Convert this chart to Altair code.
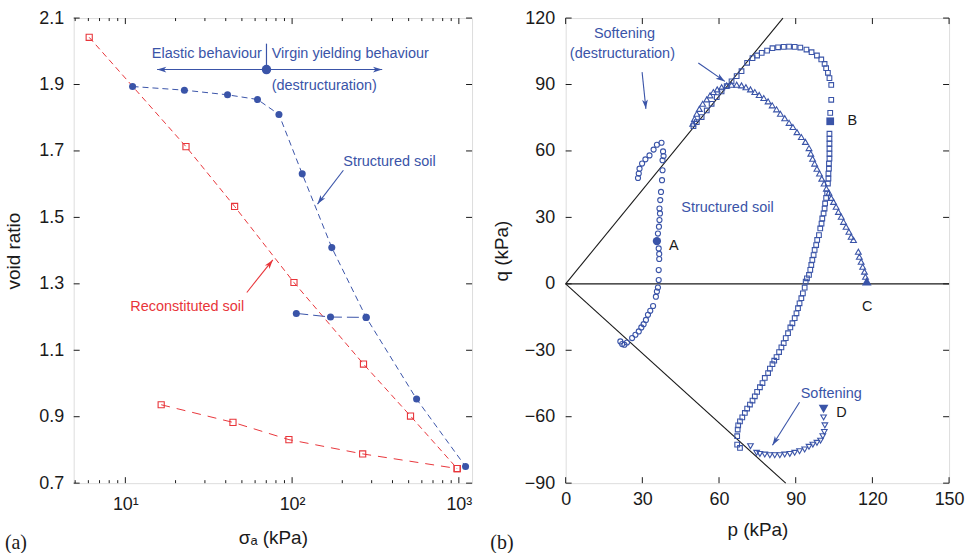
import altair as alt
import pandas as pd

BLUE = "#3a54a8"
RED = "#e8353a"
FONT = "Liberation Sans"
INK = "#1a1a1a"

# ---------------- panel (a) data ----------------
struct_sigma = [11.05, 22.6, 41.0, 62.0, 83.4, 115.0, 173.0, 278.0, 558.0, 1097.0]
struct_e = [1.894, 1.883, 1.869, 1.855, 1.810, 1.631, 1.409, 1.199, 0.953, 0.750]
struct_unl_sigma = [106.0, 170.0, 278.0]
struct_unl_e = [1.211, 1.200, 1.199]
recon_sigma = [6.07, 23.1, 45.2, 102.6, 268.0, 513.0, 977.0]
recon_e = [2.042, 1.713, 1.533, 1.304, 1.0585, 0.902, 0.744]
recon_unl_sigma = [16.4, 44.2, 95.7, 265.0, 977.0]
recon_unl_e = [0.936, 0.883, 0.831, 0.788, 0.744]

a_x_ticks = [10, 100, 1000]
a_x_tick_labels = ["10¹", "10²", "10³"]
a_x_minor = [5, 6, 7, 8, 9, 20, 30, 40, 50, 60, 70, 80, 90,
             200, 300, 400, 500, 600, 700, 800, 900]
a_y_ticks = [0.7, 0.9, 1.1, 1.3, 1.5, 1.7, 1.9, 2.1]

# ---------------- panel (b) data ----------------
circ_p = [28.3, 28.6, 28.9, 29.9, 31.2, 32.8, 34.4, 35.7, 37.5, 38.1, 38.3, 37.9,
          37.9, 37.7, 37.3, 37.0, 36.7, 36.9, 36.7, 36.5, 36.1, 36.4, 36.6, 36.6,
          36.4, 36.4, 36.1, 35.7, 35.3, 34.2, 33.1, 32.2, 31.4, 30.5, 29.6, 28.6,
          27.3, 26.0, 24.0, 23.0, 22.1, 21.4]
circ_q = [47.8, 49.8, 52.0, 54.3, 56.2, 58.0, 60.6, 62.8, 63.7, 59.8, 57.7, 55.8,
          51.3, 46.8, 41.5, 37.8, 34.0, 31.8, 28.8, 25.8, 22.7, 16.0, 13.5, 11.2,
          6.2, 1.7, -1.7, -3.5, -5.8, -10.0, -12.2, -14.0, -16.3, -18.2, -19.7, -21.5,
          -23.0, -24.5, -26.5, -27.5, -27.2, -26.0]

sq_p = [50.0, 51.3, 53.2, 55.2, 57.1, 59.1, 61.0, 63.0, 64.9, 66.9, 68.8, 71.0,
        73.1, 74.9, 76.7, 78.8, 80.9, 83.1, 85.3, 87.4, 89.6, 91.8, 94.2, 96.2,
        98.3, 100.0, 101.3, 101.9, 102.6, 103.2, 103.9, 103.9, 103.5,
        103.2, 103.2, 103.2, 103.2, 103.2, 103.2, 103.0, 103.0, 102.8, 102.8,
        102.6, 102.3, 101.9, 101.5, 101.3, 100.9, 100.4, 100.1, 99.6, 99.1, 98.4,
        98.0, 97.4, 97.0, 96.5, 96.1, 95.7, 95.2, 94.4, 93.9, 93.5, 92.8, 92.2,
        91.5, 90.9, 90.3, 89.6, 88.7, 87.9, 87.0, 86.1, 85.3, 84.4, 83.5, 82.5,
        81.6, 80.9, 79.9, 79.2, 77.9, 77.0, 76.0, 74.9, 74.0, 73.1, 72.1, 71.0,
        70.1, 69.1, 68.2, 67.5, 67.3, 67.1, 67.1, 68.2]
sq_q = [71.2, 73.0, 75.3, 78.3, 81.3, 84.3, 86.9, 89.3, 91.4, 93.8, 96.0, 99.8,
        101.9, 103.1, 104.3, 105.3, 106.4, 106.8, 107.0, 107.1, 107.0, 106.7, 105.8, 104.6,
        103.1, 101.3, 99.3, 97.4, 95.3, 92.9, 89.8, 83.1, 77.2,
        67.8, 65.5, 63.3, 61.0, 58.8, 56.5, 54.3, 52.0, 49.8, 47.5,
        45.3, 40.8, 38.8, 36.3, 34.0, 31.8, 29.5, 27.2, 25.0, 22.0, 19.8,
        17.5, 15.3, 13.0, 10.8, 8.5, 6.3, 4.0, 2.5, 1.0, -1.7, -4.3, -6.5,
        -8.8, -11.0, -13.3, -15.5, -17.8, -19.7, -22.3, -24.5, -26.8, -28.7, -30.8, -33.1,
        -34.7, -36.3, -38.3, -40.3, -42.5, -44.8, -46.7, -48.8, -50.8, -52.7, -54.5, -56.3,
        -58.3, -60.3, -62.1, -63.9, -65.8, -68.8, -72.6, -74.1]

tri_p = [49.7, 50.4, 51.3, 52.3, 53.6, 55.2, 56.5, 57.8, 59.3, 61.0, 63.0, 64.9,
         66.9, 68.8, 70.5, 72.3, 74.0, 75.7, 77.5, 79.2, 80.8, 82.5, 84.0, 85.7,
         87.4, 88.9, 90.5, 92.2, 93.8, 95.2, 95.9, 96.6, 97.4, 98.3, 99.3, 100.2,
         101.1, 102.0, 103.0, 103.9, 104.8, 105.8, 106.7, 107.8, 108.7, 109.7, 110.8,
         111.7, 112.6, 114.5, 114.9, 115.6, 116.2, 116.9, 117.3]
tri_q = [72.3, 74.5, 76.8, 79.0, 81.3, 83.3, 85.1, 86.6, 87.8, 88.8, 89.6, 89.9,
         89.9, 89.6, 88.8, 87.8, 86.6, 85.3, 83.9, 82.4, 80.6, 78.8, 76.8, 74.8,
         72.7, 70.8, 68.5, 66.3, 64.1, 61.3, 58.8, 56.5, 54.3, 52.0, 49.8, 47.5,
         45.3, 43.0, 41.2, 38.8, 37.0, 34.8, 32.5, 30.3, 28.0, 25.8, 23.5,
         21.3, 19.8, 14.5, 12.2, 10.0, 7.7, 5.5, 3.2]

itri_p = [100.9, 101.4, 101.2, 100.6, 99.7, 98.3, 96.7, 95.2, 93.5, 91.5, 89.6,
          87.7, 85.7, 83.8, 81.8, 79.9, 77.9, 76.0, 74.7, 72.3]
itri_q = [-60.3, -63.9, -66.9, -68.8, -70.8, -71.8, -72.6, -73.6, -74.8, -75.6, -76.3,
          -76.8, -77.1, -77.4, -77.4, -77.4, -77.1, -76.8, -76.3, -73.3]

pt_names = ["A", "B", "C", "D"]
pt_p = [35.7, 103.5, 117.8, 100.9]
pt_q = [19.3, 73.4, 1.2, -56.5]
pt_shapes = ["circle", "square", "triangle-up", "triangle-down"]
pt_sizes = [70, 60, 95, 95]

csl_p = [0, 85.0, 0, 86.1, 0, 150]
csl_q = [0, 120.0, 0, -90.0, 0, 0]
csl_id = ["c", "c", "e", "e", "z", "z"]

b_x_ticks = [0, 30, 60, 90, 120, 150]
b_y_ticks = [-90, -60, -30, 0, 30, 60, 90, 120]

# ---------------- layout ----------------
W_A, H_A = 400, 467
W_B, H_B = 385, 467
TICK = 6
MINOR = 3
ARROW = "M0,0L0.6,1.9L0,1.4L-0.6,1.9Z"

label_expr = " : ".join(
    f"datum.value == {v} ? '{t}'" for v, t in zip(a_x_ticks, a_x_tick_labels)
) + " : ''"

axis_common = dict(domain=False, ticks=False, tickSize=0, grid=False,
                   labelFont=FONT, labelFontSize=18, labelColor=INK,
                   titleFont=FONT, titleFontSize=19, titleFontWeight="normal",
                   titleColor=INK, labelFlush=False, labelOverlap=False)

XA = alt.X("x:Q", scale=alt.Scale(type="log", domain=[4.9, 1200], nice=False),
           axis=alt.Axis(values=a_x_ticks, labelExpr=label_expr, title="σₐ (kPa)",
                         labelPadding=12, titlePadding=16, **axis_common))
YA = alt.Y("y:Q", scale=alt.Scale(domain=[0.7, 2.1], nice=False, zero=False),
           axis=alt.Axis(values=a_y_ticks, format=".1f", title="void ratio",
                         labelPadding=10, titlePadding=15, **axis_common))

XB = alt.X("x:Q", scale=alt.Scale(domain=[0, 150], nice=False, zero=False),
           axis=alt.Axis(values=b_x_ticks, title="p (kPa)", labelPadding=7,
                         titlePadding=13, **axis_common))
YB = alt.Y("y:Q", scale=alt.Scale(domain=[-90, 120], nice=False, zero=False),
           axis=alt.Axis(values=b_y_ticks, title="q (kPa)", labelPadding=11,
                         titlePadding=13, **axis_common))


def frame_ticks(X, Y, xvals, yvals, w, h, length, do_y=True):
    layers = []
    dx = pd.DataFrame({"x": xvals})
    layers.append(alt.Chart(dx).mark_rule(color=INK, strokeWidth=1).encode(
        x=X, y=alt.value(0), y2=alt.value(length)))
    layers.append(alt.Chart(dx).mark_rule(color=INK, strokeWidth=1).encode(
        x=X, y=alt.value(h), y2=alt.value(h - length)))
    if do_y:
        dy = pd.DataFrame({"y": yvals})
        layers.append(alt.Chart(dy).mark_rule(color=INK, strokeWidth=1).encode(
            y=Y, x=alt.value(0), x2=alt.value(length)))
        layers.append(alt.Chart(dy).mark_rule(color=INK, strokeWidth=1).encode(
            y=Y, x=alt.value(w), x2=alt.value(w - length)))
    return layers


def text_layer(X, Y, xs, ys, texts, color, align="center", size=14.5):
    d = pd.DataFrame({"x": xs, "y": ys, "t": texts})
    return alt.Chart(d).mark_text(font=FONT, fontSize=size, color=color, align=align,
                                  baseline="middle").encode(x=X, y=Y, text="t:N")


def arrow_layers(X, Y, x0, y0, x1, y1, angle, color):
    d = pd.DataFrame({"x": [x0], "y": [y0], "x2": [x1], "y2": [y1]})
    shaft = alt.Chart(d).mark_rule(color=color, strokeWidth=1.1).encode(
        x=X, y=Y, x2=alt.X2("x2:Q"), y2=alt.Y2("y2:Q"))
    h = pd.DataFrame({"x": [x1], "y": [y1]})
    head = alt.Chart(h).mark_point(shape=ARROW, filled=True, size=95, color=color,
                                   opacity=1, strokeWidth=0, angle=angle).encode(x=X, y=Y)
    return [shaft, head]


# ---------------- panel (a) ----------------
recon_df = pd.DataFrame({"x": recon_sigma + recon_unl_sigma,
                         "y": recon_e + recon_unl_e,
                         "b": ["l"] * len(recon_sigma) + ["u"] * len(recon_unl_sigma)})
recon_line_l = alt.Chart(recon_df[recon_df.b == "l"]).mark_line(
    color=RED, strokeWidth=1, strokeDash=[6, 4]).encode(x=XA, y=YA)
recon_line_u = alt.Chart(recon_df[recon_df.b == "u"]).mark_line(
    color=RED, strokeWidth=1, strokeDash=[9, 7]).encode(x=XA, y=YA)
recon_pts = alt.Chart(recon_df).mark_point(
    shape="square", size=38, color=RED, strokeWidth=1.1, filled=False, opacity=1).encode(x=XA, y=YA)

st_df = pd.DataFrame({"x": struct_sigma, "y": struct_e})
stu_df = pd.DataFrame({"x": struct_unl_sigma, "y": struct_unl_e})
st_line = alt.Chart(st_df).mark_line(color=BLUE, strokeWidth=1, strokeDash=[6, 4]).encode(x=XA, y=YA)
stu_line = alt.Chart(stu_df).mark_line(color=BLUE, strokeWidth=1, strokeDash=[12, 5]).encode(x=XA, y=YA)
st_pts = alt.Chart(pd.concat([st_df, stu_df])).mark_circle(
    size=50, color=BLUE, opacity=1).encode(x=XA, y=YA)

a_layers = [recon_line_l, recon_line_u, st_line, stu_line, recon_pts, st_pts]

# annotations (a)
yl_df = pd.DataFrame({"x": [70.2], "y": [1.945], "y2": [2.023]})
a_layers.append(alt.Chart(yl_df).mark_rule(color=BLUE, strokeWidth=1.2).encode(
    x=XA, y=YA, y2=alt.Y2("y2:Q")))
a_layers += arrow_layers(XA, YA, 70.2, 1.945, 15.5, 1.945, 270, BLUE)
a_layers += arrow_layers(XA, YA, 70.2, 1.945, 347, 1.945, 90, BLUE)
a_layers.append(alt.Chart(pd.DataFrame({"x": [70.2], "y": [1.945]})).mark_circle(
    size=90, color=BLUE, opacity=1).encode(x=XA, y=YA))
a_layers.append(text_layer(XA, YA, [65.8], [1.993], ["Elastic behaviour"], BLUE, "right"))
a_layers.append(text_layer(XA, YA, [75.5], [1.993], ["Virgin yielding behaviour"], BLUE, "left"))
a_layers.append(text_layer(XA, YA, [156], [1.894], ["(destructuration)"], BLUE, "center"))
a_layers.append(text_layer(XA, YA, [203], [1.666], ["Structured soil"], BLUE, "left"))
a_layers += arrow_layers(XA, YA, 203, 1.642, 142, 1.540, 216, BLUE)
a_layers.append(text_layer(XA, YA, [10.7], [1.229], ["Reconstituted soil"], RED, "left"))
a_layers += arrow_layers(XA, YA, 53.5, 1.274, 76.6, 1.372, 38, RED)

a_layers += frame_ticks(XA, YA, a_x_ticks, a_y_ticks, W_A, H_A, TICK)
a_layers += frame_ticks(XA, YA, a_x_minor, [], W_A, H_A, MINOR, do_y=False)
a_layers.append(alt.Chart(pd.DataFrame({"t": ["(a)"]})).mark_text(
    font="Liberation Serif", fontSize=20, color=INK, align="center", baseline="middle").encode(
    x=alt.value(-58), y=alt.value(H_A + 60), text="t:N"))

panel_a = alt.layer(*a_layers).properties(width=W_A, height=H_A)

# ---------------- panel (b) ----------------
b_layers = []
csl_df = pd.DataFrame({"x": csl_p, "y": csl_q, "g": csl_id, "o": list(range(len(csl_p)))})
b_layers.append(alt.Chart(csl_df).mark_line(color=INK, strokeWidth=1.1).encode(
    x=XB, y=YB, detail="g:N", order="o:Q"))

MC = BLUE
b_layers.append(alt.Chart(pd.DataFrame({"x": circ_p, "y": circ_q})).mark_point(
    shape="circle", size=26, color=MC, strokeWidth=1.1, filled=False, opacity=1).encode(x=XB, y=YB))
b_layers.append(alt.Chart(pd.DataFrame({"x": sq_p, "y": sq_q})).mark_point(
    shape="square", size=22, color=MC, strokeWidth=1.1, filled=False, opacity=1).encode(x=XB, y=YB))
b_layers.append(alt.Chart(pd.DataFrame({"x": tri_p, "y": tri_q})).mark_point(
    shape="triangle-up", size=34, color=MC, strokeWidth=1.1, filled=False, opacity=1).encode(x=XB, y=YB))
b_layers.append(alt.Chart(pd.DataFrame({"x": itri_p, "y": itri_q})).mark_point(
    shape="triangle-down", size=32, color=MC, strokeWidth=1.1, filled=False, opacity=1).encode(x=XB, y=YB))
for nm, pp, qq, sh, sz in zip(pt_names, pt_p, pt_q, pt_shapes, pt_sizes):
    b_layers.append(alt.Chart(pd.DataFrame({"x": [pp], "y": [qq]})).mark_point(
        shape=sh, size=sz, color=MC, filled=True, opacity=1, strokeWidth=0).encode(x=XB, y=YB))

b_layers.append(text_layer(XB, YB, [42.3, 112.1, 118.0, 107.9], [17.2, 73.6, -10.3, -58.3],
                           pt_names, INK, "center", 14.5))
b_layers.append(text_layer(XB, YB, [23.0], [112.7], ["Softening"], BLUE))
b_layers.append(text_layer(XB, YB, [22.2], [103.7], ["(destructuration)"], BLUE))
b_layers.append(text_layer(XB, YB, [63.3], [34.3], ["Structured soil"], BLUE))
b_layers.append(text_layer(XB, YB, [103.9], [-49.6], ["Softening"], BLUE))
b_layers += arrow_layers(XB, YB, 29.9, 95.6, 31.4, 79.0, 174, BLUE)
b_layers += arrow_layers(XB, YB, 51.9, 99.7, 62.3, 91.4, 124, BLUE)
b_layers += arrow_layers(XB, YB, 91.5, -53.5, 80.9, -72.9, 212, BLUE)

b_layers += frame_ticks(XB, YB, b_x_ticks, b_y_ticks, W_B, H_B, TICK)
b_layers.append(alt.Chart(pd.DataFrame({"t": ["(b)"]})).mark_text(
    font="Liberation Serif", fontSize=20, color=INK, align="center", baseline="middle").encode(
    x=alt.value(-64), y=alt.value(H_B + 60), text="t:N"))

panel_b = alt.layer(*b_layers).properties(width=W_B, height=H_B)

chart = alt.hconcat(panel_a, panel_b, spacing=16).properties(
    padding={"left": 4, "top": 7, "right": 2, "bottom": 0}
).configure_view(stroke=INK, strokeWidth=1.4).configure(background="white")

chart.save("out.html", embed_options={"renderer": "svg", "actions": False})
